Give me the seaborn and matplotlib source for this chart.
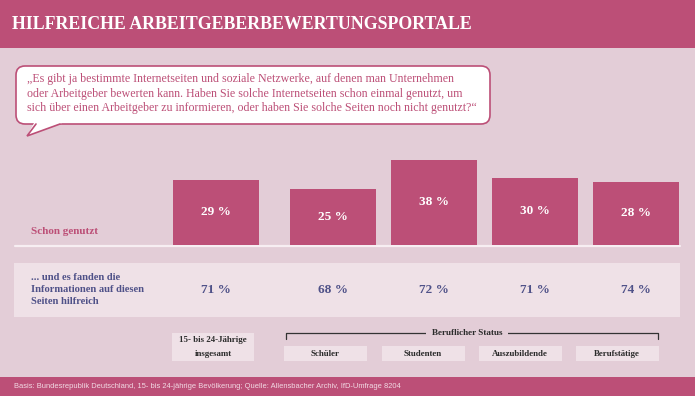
import matplotlib

matplotlib.use("Agg")
import matplotlib.pyplot as plt
import matplotlib.transforms as mtransforms
import pandas as pd
import seaborn as sns
from matplotlib.patches import FancyBboxPatch, Polygon, Rectangle

# Daten
groups = ["15- bis 24-Jährige\ninsgesamt", "Schüler", "Studenten", "Auszubildende", "Berufstätige"]
schon_genutzt = [29, 25, 38, 30, 28]
hilfreich = [71, 68, 72, 71, 74]

title = "HILFREICHE ARBEITGEBERBEWERTUNGSPORTALE"
question = ("\u201eEs gibt ja bestimmte Internetseiten und soziale Netzwerke, auf denen man Unternehmen\n"
            "oder Arbeitgeber bewerten kann. Haben Sie solche Internetseiten schon einmal genutzt, um\n"
            "sich über einen Arbeitgeber zu informieren, oder haben Sie solche Seiten noch nicht genutzt?\u201c")
row1_label = "Schon genutzt"
row2_label = "... und es fanden die\nInformationen auf diesen\nSeiten hilfreich"
status_label = "Beruflicher Status"
source = ("Basis: Bundesrepublik Deutschland, 15- bis 24-jährige Bevölkerung; "
          "Quelle: Allensbacher Archiv, IfD-Umfrage 8204")

# Farben
PINK = "#bc4f77"
BG = "#e3cdd7"
BAND = "#efe1e7"
BLUE = "#4f5188"
SERIF = ["Liberation Serif", "DejaVu Serif"]
SANS = ["Liberation Sans", "DejaVu Sans"]

# Layout (Pixel bei 695x396)
W, H = 695, 396
x_pos = [0, 1.16, 2.16, 3.16, 4.16]          # Balkenpositionen, 1 Einheit = 101 px
box_x = [213, 325.5, 423, 520, 617]          # Mitte der Kategorie-Kästchen


def draw_background(bg):
    # Kopfzeile
    bg.add_patch(Rectangle((0, 0), W, 48, color=PINK, lw=0))
    bg.text(12, 24.5, title, color="white", fontsize=12.9, fontweight="bold",
            family=SERIF, va="center", ha="left")

    # Sprechblase
    bubble = FancyBboxPatch((18, 68), 470, 54, boxstyle="round,pad=2,rounding_size=9",
                            fc="white", ec=PINK, lw=1.2)
    bg.add_patch(bubble)
    bg.add_patch(Polygon([(34, 123), (27, 136), (62, 123)], closed=True, fc="white", lw=0))
    bg.plot([36, 27, 60], [124, 136, 124], color=PINK, lw=1.2, solid_joinstyle="miter")
    bg.text(27, 93.5, question, color=PINK, fontsize=8.6, family=SERIF,
            va="center", ha="left", linespacing=1.3)

    # Zeile 2 Hintergrund
    bg.add_patch(Rectangle((14, 263), 666, 54, color=BAND, lw=0))
    bg.plot([15, 680], [245.5, 245.5], color="#f7eef2", lw=1.6)

    bg.text(31, 231, row1_label, color=PINK, fontsize=8, fontweight="bold",
            family=SERIF, va="center")
    bg.text(31, 289.5, row2_label, color=BLUE, fontsize=7.6, fontweight="bold",
            family=SERIF, va="center", linespacing=1.4)

    # Kategorie-Kästchen
    for i, (label, cx) in enumerate(zip(groups, box_x)):
        if i == 0:
            bg.add_patch(Rectangle((cx - 41, 333), 82, 28, color=BAND, lw=0))
            bg.text(cx, 347, label, fontsize=6.4, fontweight="bold", family=SERIF,
                    color="#2b2b2b", ha="center", va="center", linespacing=1.9)
        else:
            bg.add_patch(Rectangle((cx - 41.5, 346), 83, 15, color=BAND, lw=0))
            bg.text(cx, 353.5, label, fontsize=6.4, fontweight="bold", family=SERIF,
                    color="#2b2b2b", ha="center", va="center")

    # Klammer "Beruflicher Status"
    bg.plot([286, 286, 658, 658], [338.5, 333, 333, 338.5], color="#333333", lw=0.9)
    bg.text(467, 333, status_label, fontsize=6.6, fontweight="bold", family=SERIF,
            color="#2b2b2b", ha="center", va="center",
            bbox=dict(fc=BG, ec="none", pad=4))

    # Fußzeile
    bg.add_patch(Rectangle((0, 377), W, 19, color=PINK, lw=0))
    bg.text(14, 386.5, source, color="#f2dbe5", fontsize=5.45, family=SANS,
            va="center", ha="left")


def plot_chart(output_image):
    sns.set_theme(style="white")
    fig = plt.figure(figsize=(W / 100, H / 100), dpi=100, facecolor=BG)

    bg = fig.add_axes([0, 0, 1, 1], zorder=0)
    bg.set_xlim(0, W)
    bg.set_ylim(H, 0)
    bg.axis("off")
    draw_background(bg)

    df = pd.DataFrame({"pos": x_pos, "gruppe": groups, "schon": schon_genutzt, "hilfreich": hilfreich})

    # Balken-Achse: Grundlinie bei y=245 px, 2.25 px pro Prozentpunkt
    ax = fig.add_axes([14 / W, (H - 245) / H, 666 / W, 95 / H], zorder=1)
    ax.patch.set_alpha(0)
    sns.barplot(data=df, x="pos", y="schon", native_scale=True, width=0.85,
                color=PINK, saturation=1, errorbar=None, ax=ax)
    ax.set_xlim((14 - 216) / 101, (680 - 216) / 101)
    ax.set_ylim(0, 95 / 2.25)
    ax.axis("off")

    for p in ax.patches:
        p.set_edgecolor("none")
    ax.bar_label(ax.containers[0], labels=[f"{v} %" for v in df["schon"]],
                 label_type="center", color="white", fontsize=9.5,
                 fontweight="bold", family=SERIF)

    # Zeile 2: Werte unter den Balken
    trans = mtransforms.blended_transform_factory(ax.transData, bg.transData)
    for x, v in zip(df["pos"], df["hilfreich"]):
        ax.text(x, 290, f"{v} %", transform=trans, color=BLUE, fontsize=9.5,
                fontweight="bold", family=SERIF, ha="center", va="center")

    fig.savefig(output_image, dpi=100, facecolor=BG)
    plt.close(fig)


def main():
    plot_chart("out.png")


if __name__ == "__main__":
    main()
